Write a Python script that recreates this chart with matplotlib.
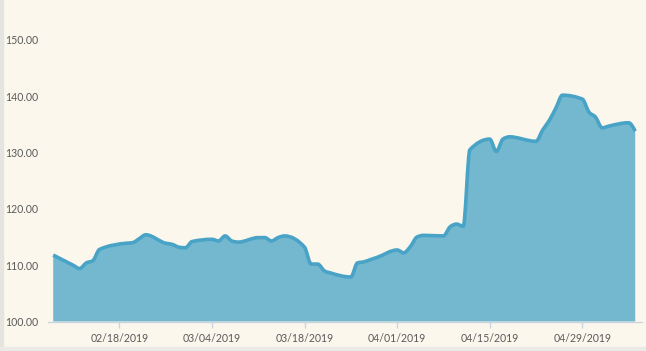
import numpy as np
import pandas as pd
import matplotlib
matplotlib.use("Agg")
import matplotlib.pyplot as plt
import matplotlib.dates as mdates
from matplotlib.patches import Rectangle, PathPatch
from matplotlib.path import Path

# Trading days and closing values
dates = [
    "2019-02-08", "2019-02-11", "2019-02-12", "2019-02-13", "2019-02-14", "2019-02-15",
    "2019-02-19", "2019-02-20", "2019-02-21", "2019-02-22",
    "2019-02-25", "2019-02-26", "2019-02-27", "2019-02-28", "2019-03-01",
    "2019-03-04", "2019-03-05", "2019-03-06", "2019-03-07", "2019-03-08",
    "2019-03-11", "2019-03-12", "2019-03-13", "2019-03-14", "2019-03-15",
    "2019-03-18", "2019-03-19", "2019-03-20", "2019-03-21", "2019-03-22",
    "2019-03-25", "2019-03-26", "2019-03-27", "2019-03-28", "2019-03-29",
    "2019-04-01", "2019-04-02", "2019-04-03", "2019-04-04", "2019-04-05",
    "2019-04-08", "2019-04-09", "2019-04-10", "2019-04-11", "2019-04-12",
    "2019-04-15", "2019-04-16", "2019-04-17", "2019-04-18",
    "2019-04-22", "2019-04-23", "2019-04-24", "2019-04-25", "2019-04-26",
    "2019-04-29", "2019-04-30", "2019-05-01", "2019-05-02", "2019-05-03",
    "2019-05-06", "2019-05-07",
]
values = [
    111.8, 110.0, 109.4, 110.4, 110.8, 112.8,
    113.9, 114.0, 114.7, 115.4,
    113.9, 113.7, 113.2, 113.1, 114.2,
    114.6, 114.3, 115.2, 114.3, 114.1,
    114.9, 114.9, 114.3, 114.9, 115.2,
    113.2, 110.2, 110.2, 109.0, 108.6,
    107.9, 110.4, 110.6, 111.0, 111.4,
    112.7, 112.2, 113.3, 115.0, 115.3,
    115.2, 116.8, 117.3, 116.9, 130.5,
    132.4, 130.2, 132.4, 132.8,
    132.0, 134.0, 135.7, 137.9, 140.2,
    139.5, 137.2, 136.3, 134.4, 134.7,
    135.3, 133.8,
]
xticks = ["2019-02-18", "2019-03-04", "2019-03-18", "2019-04-01", "2019-04-15", "2019-04-29"]
yticks = [100, 110, 120, 130, 140, 150]

bg = "#fbf7ed"
fill_color = "#74b8cf"
line_color = "#48a3c6"
axis_color = "#c9d6e0"
text_color = "#5a5a5a"

plt.rcParams['font.family'] = ['Lato', 'DejaVu Sans']


def monotone_path(xs, ys):
    # monotone cubic segments (same idea as d3.curveMonotoneX)
    xs = np.asarray(xs, float)
    ys = np.asarray(ys, float)
    h = np.diff(xs)
    s = np.diff(ys) / h
    t = np.zeros(len(xs))
    for i in range(1, len(xs) - 1):
        p = (s[i - 1] * h[i] + s[i] * h[i - 1]) / (h[i - 1] + h[i])
        t[i] = (np.sign(s[i - 1]) + np.sign(s[i])) * min(abs(s[i - 1]), abs(s[i]), 0.5 * abs(p))
    t[0] = (3 * s[0] - t[1]) / 2
    t[-1] = (3 * s[-1] - t[-2]) / 2
    verts = [(xs[0], ys[0])]
    codes = [Path.MOVETO]
    for i in range(len(xs) - 1):
        dx = h[i] / 3
        verts += [(xs[i] + dx, ys[i] + dx * t[i]),
                  (xs[i + 1] - dx, ys[i + 1] - dx * t[i + 1]),
                  (xs[i + 1], ys[i + 1])]
        codes += [Path.CURVE4] * 3
    return verts, codes


x = mdates.date2num(pd.to_datetime(dates))

fig = plt.figure(figsize=(6.46, 3.51), dpi=100, facecolor=bg)
ax = fig.add_axes([48.3 / 646, 1 - 321.5 / 351, (641.7 - 48.3) / 646, (321.5 - 40) / 351])
ax.set_facecolor(bg)

verts, codes = monotone_path(x, values)
area = Path(verts + [(x[-1], 100), (x[0], 100), (x[0], values[0])],
            codes + [Path.LINETO, Path.LINETO, Path.CLOSEPOLY])
ax.add_patch(PathPatch(area, facecolor=fill_color, edgecolor='none'))
ax.add_patch(PathPatch(Path(verts, codes), facecolor='none', edgecolor=line_color,
                       linewidth=2.6, joinstyle='round', capstyle='butt'))

start = mdates.date2num(pd.Timestamp("2019-02-08"))
ax.set_xlim(start - 0.74, start + 88.98)
ax.set_ylim(100, 150)

for s in ['top', 'right', 'left']:
    ax.spines[s].set_visible(False)
ax.spines['bottom'].set_color(axis_color)
ax.spines['bottom'].set_linewidth(1)

ax.xaxis_date()
ax.set_xticks(mdates.date2num(pd.to_datetime(xticks)))
ax.xaxis.set_major_formatter(mdates.DateFormatter("%m/%d/%Y"))
ax.tick_params(axis='x', length=4.5, width=1, color=axis_color, pad=4,
               labelsize=7.6, labelcolor=text_color)

ax.set_yticks(yticks)
ax.set_yticklabels([f"{v:.2f}" for v in yticks])
ax.tick_params(axis='y', length=0, pad=7, labelsize=7.6, labelcolor=text_color)

# panel border
fig.patches.append(Rectangle((0, 0), 2.5 / 646, 1, transform=fig.transFigure,
                             color="#e6e4df", zorder=0))
fig.patches.append(Rectangle((0, 0), 1, 4.5 / 351, transform=fig.transFigure,
                             color="#ebeae7", zorder=0))

fig.savefig("out.png", dpi=100, facecolor=bg)
